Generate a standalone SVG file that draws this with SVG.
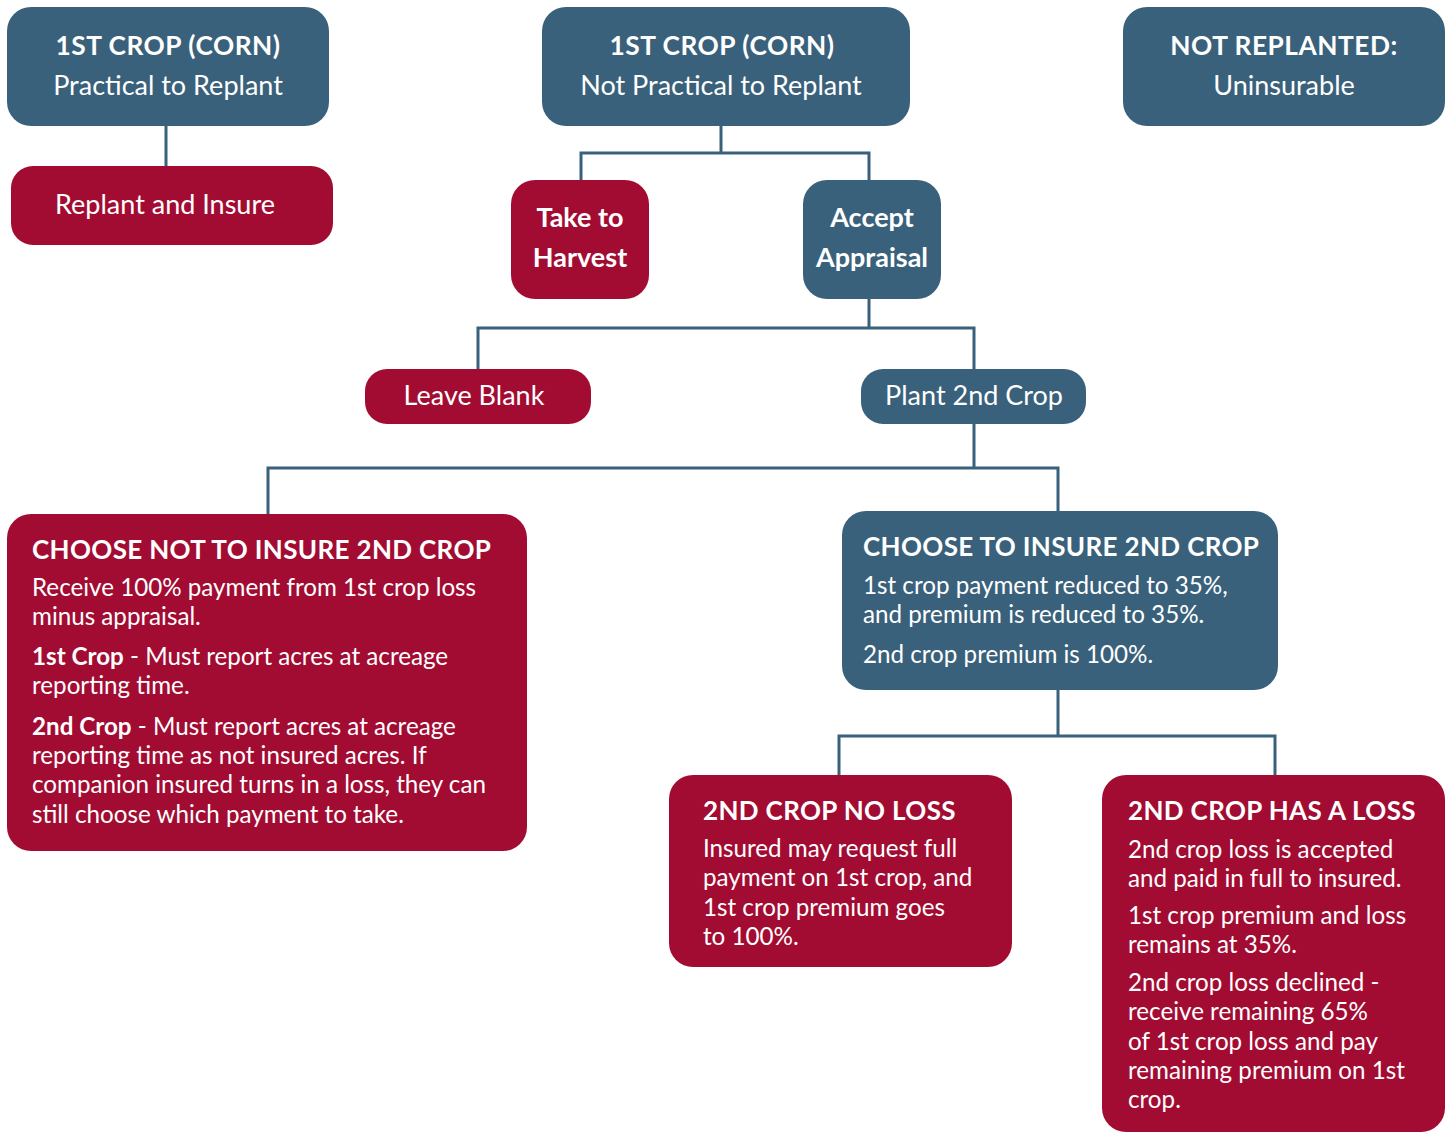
<svg xmlns="http://www.w3.org/2000/svg" width="1452" height="1134" viewBox="0 0 1452 1134">
<style>
.blue{fill:#3a617b}
.red{fill:#a20c32}
text{font-family:Lato,"Open Sans",sans-serif;fill:#fff}
.h{font-weight:bold;font-size:26.3px;letter-spacing:0.5px}
.m{font-size:27px}
.c{text-anchor:middle}
.b{font-size:24.2px}
.bb{font-weight:bold}
.t{font-weight:bold;font-size:26px;letter-spacing:0.35px}
.con{fill:none;stroke:#3a617b;stroke-width:3}
</style>
<rect width="1452" height="1134" fill="#fff"/>
<g id="connectors">
<path class="con" d="M166 126V166"/>
<path class="con" d="M721 126V153M581 180V153H869V180"/>
<path class="con" d="M869 299V328M478 369V328H974V369"/>
<path class="con" d="M974 424V468M268 514V468H1058V511"/>
<path class="con" d="M1058 690V736M839 775V736H1275V775"/>
</g>
<g id="n1"><rect class="blue" x="7" y="7" width="322" height="119" rx="24"/>
<text class="h c" x="168" y="55">1ST CROP (CORN)</text>
<text class="m c" x="168" y="95">Practical to Replant</text></g>
<g id="n2"><rect class="red" x="11" y="166" width="322" height="79" rx="22"/>
<text class="m c" x="165" y="214">Replant and Insure</text></g>
<g id="n3"><rect class="blue" x="542" y="7" width="368" height="119" rx="24"/>
<text class="h c" x="722" y="55">1ST CROP (CORN)</text>
<text class="m c" x="721" y="95">Not Practical to Replant</text></g>
<g id="n4"><rect class="blue" x="1123" y="7" width="322" height="119" rx="24"/>
<text class="h c" x="1284" y="55">NOT REPLANTED:</text>
<text class="m c" x="1284" y="95">Uninsurable</text></g>
<g id="n5"><rect class="red" x="511" y="180" width="138" height="119" rx="24"/>
<text class="m c bb" x="580" y="227">Take to</text>
<text class="m c bb" x="580" y="267">Harvest</text></g>
<g id="n6"><rect class="blue" x="803" y="180" width="138" height="119" rx="24"/>
<text class="m c bb" x="872" y="227">Accept</text>
<text class="m c bb" x="872" y="267">Appraisal</text></g>
<g id="n7"><rect class="red" x="365" y="369" width="226" height="55" rx="22"/>
<text class="m c" x="474" y="405">Leave Blank</text></g>
<g id="n8"><rect class="blue" x="861" y="369" width="225" height="55" rx="22"/>
<text class="m c" x="974" y="405">Plant 2nd Crop</text></g>
<g id="n9"><rect class="red" x="7" y="514" width="520" height="337" rx="24"/>
<text class="t" x="32" y="559">CHOOSE NOT TO INSURE 2ND CROP</text>
<text class="b" x="32" y="596">Receive 100% payment from 1st crop loss</text>
<text class="b" x="32" y="625">minus appraisal.</text>
<text class="b" x="32" y="665"><tspan class="bb">1st Crop</tspan> - Must report acres at acreage</text>
<text class="b" x="32" y="694">reporting time.</text>
<text class="b" x="32" y="735"><tspan class="bb">2nd Crop</tspan> - Must report acres at acreage</text>
<text class="b" x="32" y="764">reporting time as not insured acres. If</text>
<text class="b" x="32" y="793">companion insured turns in a loss, they can</text>
<text class="b" x="32" y="823">still choose which payment to take.</text></g>
<g id="n10"><rect class="blue" x="842" y="511" width="436" height="179" rx="24"/>
<text class="t" x="863" y="556">CHOOSE TO INSURE 2ND CROP</text>
<text class="b" x="863" y="594">1st crop payment reduced to 35%,</text>
<text class="b" x="863" y="623">and premium is reduced to 35%.</text>
<text class="b" x="863" y="663">2nd crop premium is 100%.</text></g>
<g id="n11"><rect class="red" x="669" y="775" width="343" height="192" rx="24"/>
<text class="t" x="703" y="820">2ND CROP NO LOSS</text>
<text class="b" x="703" y="857">Insured may request full</text>
<text class="b" x="703" y="886">payment on 1st crop, and</text>
<text class="b" x="703" y="916">1st crop premium goes</text>
<text class="b" x="703" y="945">to 100%.</text></g>
<g id="n12"><rect class="red" x="1102" y="775" width="343" height="357" rx="24"/>
<text class="t" x="1128" y="820">2ND CROP HAS A LOSS</text>
<text class="b" x="1128" y="858">2nd crop loss is accepted</text>
<text class="b" x="1128" y="887">and paid in full to insured.</text>
<text class="b" x="1128" y="924">1st crop premium and loss</text>
<text class="b" x="1128" y="953">remains at 35%.</text>
<text class="b" x="1128" y="991">2nd crop loss declined -</text>
<text class="b" x="1128" y="1020">receive remaining 65%</text>
<text class="b" x="1128" y="1050">of 1st crop loss and pay</text>
<text class="b" x="1128" y="1079">remaining premium on 1st</text>
<text class="b" x="1128" y="1108">crop.</text></g>
</svg>
